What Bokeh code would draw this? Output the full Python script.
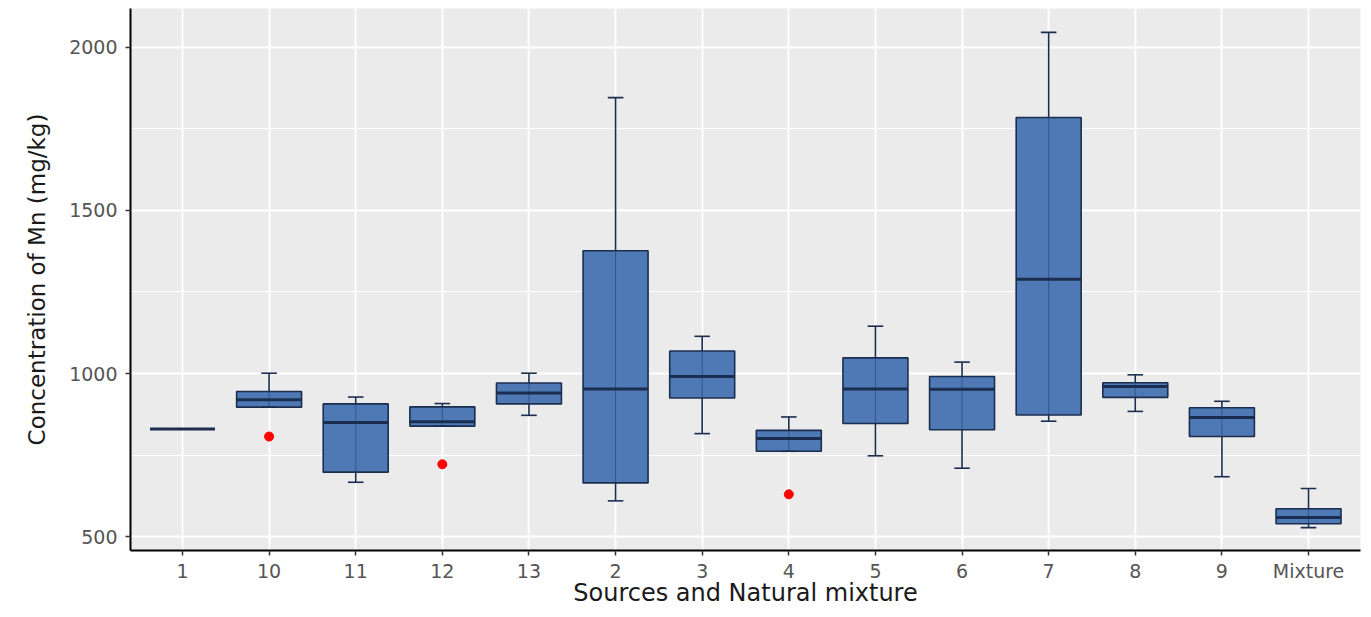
from bokeh.plotting import figure
from bokeh.models import Range1d, FixedTicker, ColumnDataSource
from bokeh.transform import dodge
from bokeh.embed import file_html
from bokeh.resources import INLINE

categories = ["1", "10", "11", "12", "13", "2", "3", "4", "5", "6", "7", "8", "9", "Mixture"]
lower = [830, 897, 667, 839, 872, 610, 816, 762, 748, 710, 854, 884, 684, 528]
q1 = [830, 897, 698, 839, 907, 665, 925, 762, 847, 828, 873, 927, 807, 540]
median = [830, 920, 850, 852, 940, 953, 991, 801, 953, 952, 1289, 960, 865, 559]
q3 = [830, 945, 907, 898, 971, 1376, 1069, 826, 1048, 991, 1784, 972, 895, 586]
upper = [830, 1001, 928, 908, 1001, 1845, 1114, 867, 1145, 1035, 2045, 996, 915, 648]
outlier_cat = ["10", "12", "4"]
outlier_val = [807, 722, 630]
x_title = "Sources and Natural mixture"
y_title = "Concentration of Mn (mg/kg)"

xpos = [i + 1 for i in range(len(categories))]
src = ColumnDataSource(dict(x=xpos, lower=lower, q1=q1, median=median, q3=q3, upper=upper))
osrc = ColumnDataSource(dict(x=[categories.index(c) + 1 for c in outlier_cat], y=outlier_val))

p = figure(width=1363, height=609, output_backend="svg", toolbar_location=None,
           x_range=Range1d(0.4, len(categories) + 0.6), y_range=Range1d(458, 2118),
           min_border_left=130, min_border_right=3, min_border_top=8, min_border_bottom=53)
p.background_fill_color = "#EBEBEB"
p.border_fill_color = "white"
p.outline_line_color = None

font = "DejaVu Sans"
line_col = "#1B2E4F"
box_fill = "#4F79B5"
BW = 0.75
CW = 0.18

p.segment(x0="x", y0="lower", x1="x", y1="upper", source=src, line_color=line_col, line_width=1.6)
p.vbar(x="x", width=BW, bottom="q1", top="q3", source=src, fill_color=box_fill,
       line_color=line_col, line_width=1.6)
p.segment(x0="x", y0="q1", x1="x", y1="q3", source=src, line_color="#1F3E6E", line_width=1, line_alpha=0.6)
p.segment(x0=dodge("x", -BW / 2), x1=dodge("x", BW / 2), y0="median", y1="median",
          source=src, line_color=line_col, line_width=3)
p.segment(x0=dodge("x", -CW / 2), x1=dodge("x", CW / 2), y0="upper", y1="upper",
          source=src, line_color=line_col, line_width=1.6)
p.segment(x0=dodge("x", -CW / 2), x1=dodge("x", CW / 2), y0="lower", y1="lower",
          source=src, line_color=line_col, line_width=1.6)
p.scatter(x="x", y="y", source=osrc, size=9, fill_color="#FF0000", line_color="#FF0000")

p.xaxis.ticker = FixedTicker(ticks=xpos)
p.xaxis.major_label_overrides = {x: c for x, c in zip(xpos, categories)}
p.yaxis.ticker = FixedTicker(ticks=[500, 1000, 1500, 2000], minor_ticks=[750, 1250, 1750])

p.xgrid.grid_line_color = "white"
p.xgrid.grid_line_width = 1.8
p.ygrid.grid_line_color = "white"
p.ygrid.grid_line_width = 1.8
p.ygrid.minor_grid_line_color = "white"
p.ygrid.minor_grid_line_width = 0.9

for ax in (p.xaxis, p.yaxis):
    ax.axis_line_color = "black"
    ax.axis_line_width = 2
    ax.major_tick_line_color = "#333333"
    ax.major_tick_line_width = 1.5
    ax.major_tick_out = 5
    ax.major_tick_in = 0
    ax.minor_tick_line_color = None
    ax.major_label_text_font = font
    ax.major_label_text_font_size = "19px"
    ax.major_label_text_color = "#555555"
    ax.axis_label_text_font = font
    ax.axis_label_text_font_style = "normal"
    ax.axis_label_text_color = "#1A1A1A"

p.xaxis.axis_label = x_title
p.xaxis.axis_label_text_font_size = "24px"
p.xaxis.major_label_standoff = 4
p.xaxis.axis_label_standoff = -6
p.yaxis.axis_label = y_title
p.yaxis.axis_label_text_font_size = "23px"
p.yaxis.major_label_standoff = 8
p.yaxis.axis_label_standoff = 16

open("out.html", "w").write(file_html(p, INLINE))
